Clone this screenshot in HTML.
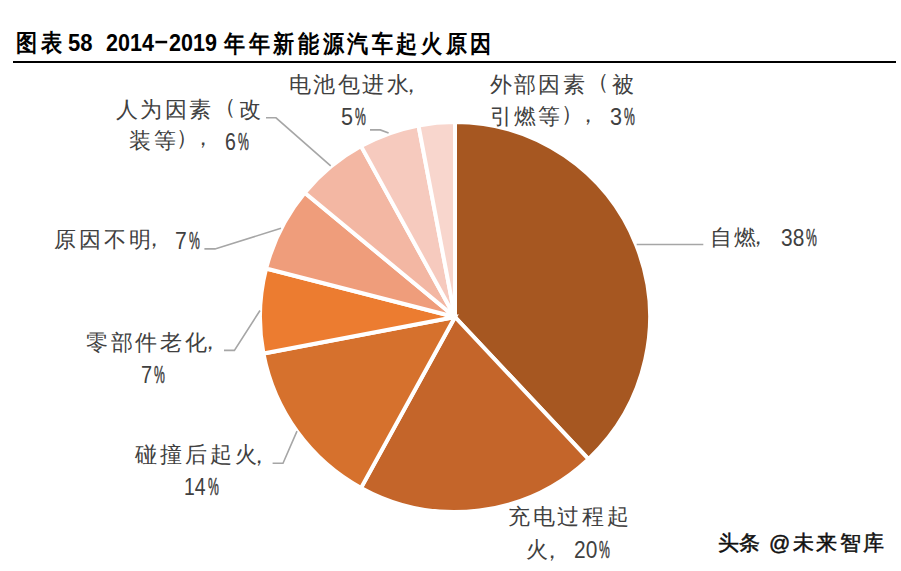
<!DOCTYPE html>
<html><head><meta charset="utf-8"><style>
html,body{margin:0;padding:0;background:#fff;width:901px;height:571px;overflow:hidden}
body{position:relative;font-family:"Liberation Sans",sans-serif}
.t{position:absolute;white-space:nowrap;line-height:1;color:#404040;transform-origin:0 0}
svg{position:absolute;left:0;top:0}
</style></head><body>
<svg width="901" height="571" viewBox="0 0 901 571">
<rect x="13" y="61" width="883" height="2" fill="#000"/><rect x="155.4" y="40.8" width="11.8" height="2.5" fill="#000"/>
<g stroke="#fff" stroke-width="4.0" stroke-linejoin="miter">
<path d="M455.00,317.00 L455.00,122.00 A195.0,195.0 0 0 1 588.49,459.15 Z" fill="#A65721"/><path d="M455.00,317.00 L588.49,459.15 A195.0,195.0 0 0 1 361.06,487.88 Z" fill="#C4652A"/><path d="M455.00,317.00 L361.06,487.88 A195.0,195.0 0 0 1 263.45,353.54 Z" fill="#D6712D"/><path d="M455.00,317.00 L263.45,353.54 A195.0,195.0 0 0 1 266.13,268.51 Z" fill="#EC7C30"/><path d="M455.00,317.00 L266.13,268.51 A195.0,195.0 0 0 1 304.75,192.70 Z" fill="#EF9D7B"/><path d="M455.00,317.00 L304.75,192.70 A195.0,195.0 0 0 1 361.06,146.12 Z" fill="#F3B7A3"/><path d="M455.00,317.00 L361.06,146.12 A195.0,195.0 0 0 1 418.46,125.45 Z" fill="#F6CABE"/><path d="M455.00,317.00 L418.46,125.45 A195.0,195.0 0 0 1 455.00,122.00 Z" fill="#F8D6CD"/>
</g>
<g fill="none" stroke="#A6A6A6" stroke-width="1.6"><polyline points="266,117.8 276,117.8 330.7,165.9"/><polyline points="370,129.9 380.3,129.9 388.6,133"/><polyline points="204.4,248.9 215,248.9 281,228.3"/><polyline points="224,350.4 234.4,350.4 260,310.5"/><polyline points="272.6,463.3 283,463.3 297,431.1"/><polyline points="636.7,244.5 703.3,244.5"/></g>
</svg>
<div class="t" style="left:16.0px;top:30.5px;font-size:24px;letter-spacing:4.0px;font-weight:bold;transform:scaleX(0.88);color:#000;">图表</div>
<div class="t" style="left:68.4px;top:31.0px;font-size:24.5px;font-weight:bold;transform:scaleX(0.9012);color:#000;">58</div>
<div class="t" style="left:106.2px;top:31.0px;font-size:24.5px;font-weight:bold;transform:scaleX(0.8787);color:#000;">2014</div>
<div class="t" style="left:168.6px;top:31.0px;font-size:24.5px;font-weight:bold;transform:scaleX(0.8786);color:#000;">2019</div>
<div class="t" style="left:224.0px;top:31.9px;font-size:24px;letter-spacing:4.0px;font-weight:bold;transform:scaleX(0.88);color:#000;">年年新能源汽车起火原因</div>
<div class="t" style="left:289.0px;top:74.1px;font-size:22px;letter-spacing:2.45px;">电池包进水</div>
<div class="t" style="left:400.0px;top:74.0px;font-size:22px;">，</div>
<div class="t" style="left:340.7px;top:105.7px;font-size:23.2px;transform:scaleX(0.9307);">5</div>
<div class="t" style="left:354.8px;top:105.7px;font-size:23.2px;transform:scaleX(0.5254);-webkit-text-stroke:0.5px #404040;">%</div>
<div class="t" style="left:489.7px;top:73.7px;font-size:22px;letter-spacing:2.367px;">外部因素</div>
<div class="t" style="left:587.0px;top:71.0px;font-size:22px;">（</div>
<div class="t" style="left:612.0px;top:73.7px;font-size:22px;letter-spacing:2.7px;">被</div>
<div class="t" style="left:490.3px;top:105.5px;font-size:22px;letter-spacing:1.8px;">引燃等</div>
<div class="t" style="left:561.0px;top:103.0px;font-size:22px;">）</div>
<div class="t" style="left:577.0px;top:104.0px;font-size:22px;">，</div>
<div class="t" style="left:610.0px;top:106.1px;font-size:23.2px;transform:scaleX(0.9307);">3</div>
<div class="t" style="left:624.1px;top:106.1px;font-size:23.2px;transform:scaleX(0.5254);-webkit-text-stroke:0.5px #404040;">%</div>
<div class="t" style="left:115.6px;top:98.5px;font-size:22px;letter-spacing:2.566px;">人为因素</div>
<div class="t" style="left:214.0px;top:96.0px;font-size:22px;">（</div>
<div class="t" style="left:239.0px;top:98.5px;font-size:22px;letter-spacing:2.7px;">改</div>
<div class="t" style="left:128.8px;top:130.4px;font-size:22px;letter-spacing:3.7px;">装等</div>
<div class="t" style="left:176.0px;top:127.0px;font-size:22px;">）</div>
<div class="t" style="left:192.0px;top:127.0px;font-size:22px;">，</div>
<div class="t" style="left:225.0px;top:131.1px;font-size:23.2px;transform:scaleX(0.8425);">6</div>
<div class="t" style="left:238.1px;top:131.1px;font-size:23.2px;transform:scaleX(0.5254);-webkit-text-stroke:0.5px #404040;">%</div>
<div class="t" style="left:54.0px;top:228.9px;font-size:22px;letter-spacing:3.039px;">原因不明</div>
<div class="t" style="left:143.0px;top:228.0px;font-size:22px;">，</div>
<div class="t" style="left:175.4px;top:230.0px;font-size:23.2px;transform:scaleX(0.9113);">7</div>
<div class="t" style="left:189.3px;top:230.0px;font-size:23.2px;transform:scaleX(0.5254);-webkit-text-stroke:0.5px #404040;">%</div>
<div class="t" style="left:86.0px;top:331.6px;font-size:22px;letter-spacing:2.7px;">零部件老化</div>
<div class="t" style="left:199.0px;top:331.0px;font-size:22px;">，</div>
<div class="t" style="left:140.8px;top:363.5px;font-size:23.2px;transform:scaleX(0.8602);">7</div>
<div class="t" style="left:154.1px;top:363.5px;font-size:23.2px;transform:scaleX(0.5254);-webkit-text-stroke:0.5px #404040;">%</div>
<div class="t" style="left:135.0px;top:443.9px;font-size:22px;letter-spacing:2.95px;">碰撞后起火</div>
<div class="t" style="left:248.0px;top:445.0px;font-size:22px;">，</div>
<div class="t" style="left:184.0px;top:475.9px;font-size:23.2px;transform:scaleX(0.8358);">14</div>
<div class="t" style="left:208.0px;top:475.9px;font-size:23.2px;transform:scaleX(0.5254);-webkit-text-stroke:0.5px #404040;">%</div>
<div class="t" style="left:507.9px;top:506.0px;font-size:22px;letter-spacing:2.8px;">充电过程起</div>
<div class="t" style="left:526.0px;top:538.5px;font-size:22px;letter-spacing:2.7px;">火</div>
<div class="t" style="left:541.0px;top:540.0px;font-size:22px;">，</div>
<div class="t" style="left:574.0px;top:539.1px;font-size:23.2px;transform:scaleX(0.9025);">20</div>
<div class="t" style="left:599.1px;top:539.1px;font-size:23.2px;transform:scaleX(0.5254);-webkit-text-stroke:0.5px #404040;">%</div>
<div class="t" style="left:710.0px;top:226.6px;font-size:22px;letter-spacing:1.7px;">自燃</div>
<div class="t" style="left:747.0px;top:226.0px;font-size:22px;">，</div>
<div class="t" style="left:781.1px;top:227.1px;font-size:23.2px;transform:scaleX(0.902);">38</div>
<div class="t" style="left:805.7px;top:227.1px;font-size:23.2px;transform:scaleX(0.5254);-webkit-text-stroke:0.5px #404040;">%</div>
<div class="t" style="left:718.0px;top:532.0px;font-size:21px;color:#111;-webkit-text-stroke:0.5px #111;">头条</div>
<div class="t" style="left:769.0px;top:532.0px;font-size:21px;letter-spacing:2.45px;color:#111;-webkit-text-stroke:0.5px #111;">@未来智库</div>
</body></html>
